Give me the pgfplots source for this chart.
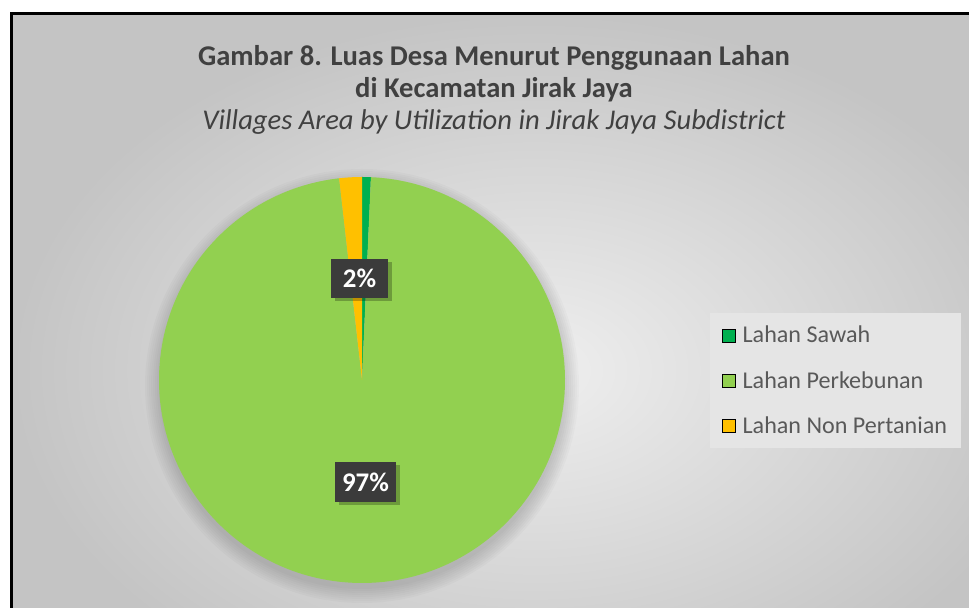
\documentclass[border=0pt]{standalone}
\usepackage{pgfplots}
\pgfplotsset{compat=1.18}
\usepackage{pgfplotstable}
\usepackage{fontspec}
\setmainfont{Carlito}
\definecolor{sawah}{HTML}{00B050}
\definecolor{kebun}{HTML}{92D050}
\definecolor{nonp}{HTML}{FFC000}
\definecolor{ttl}{HTML}{404040}
\definecolor{lgd}{HTML}{595959}
\definecolor{lblbox}{HTML}{3B3B3B}
\definecolor{bgin}{HTML}{EFEFEF}
\definecolor{bgout}{HTML}{C4C4C4}
\definecolor{lgdbg}{HTML}{E5E5E5}

\pgfplotstableread{
kategori share
Sawah 0.7
Perkebunan 97.5
NonPertanian 1.8
}\datatable

\pgfplotstablegetelem{0}{share}\of\datatable \let\sA\pgfplotsretval
\pgfplotstablegetelem{1}{share}\of\datatable \let\sB\pgfplotsretval
\pgfplotstablegetelem{2}{share}\of\datatable \let\sC\pgfplotsretval
\pgfmathsetmacro\aA{90}
\pgfmathsetmacro\aB{\aA-3.6*\sA}
\pgfmathsetmacro\aC{\aB-3.6*\sB}
\pgfmathsetmacro\aD{\aC-3.6*\sC}

\pgfplotsset{sqlegend/.style={legend image code/.code={\fill[##1] (0bp,-6.5bp) rectangle (13bp,6.5bp);}}}

\begin{document}
\begin{tikzpicture}[x=1bp,y=1bp]
\path[use as bounding box] (0,0) rectangle (969,608);
\fill[white] (0,0) rectangle (969,608);
\shade[inner color=bgin, outer color=bgout] (11,-120) rectangle (1060,595);
\draw[line width=3bp, black] (11.5,-5) -- (11.5,594.5) -- (975,594.5);
\node[text=ttl, font=\bfseries\fontsize{28.7}{32}\selectfont] at (494,550) {Gambar 8. Luas Desa Menurut Penggunaan Lahan};
\node[text=ttl, font=\bfseries\fontsize{28.7}{32}\selectfont] at (494,518) {di Kecamatan Jirak Jaya};
\node[text=ttl, font=\itshape\fontsize{28.7}{32}\selectfont] at (494,486) {Villages Area by Utilization in Jirak Jaya Subdistrict};
\begin{axis}[
  at={(0,0)}, anchor=south west,
  scale only axis, width=969bp, height=608bp,
  xmin=0, xmax=969, ymin=0, ymax=608,
  hide axis, clip=false,
  legend cell align=left,
  legend style={at={(axis cs:710,295)}, anchor=north west,
    fill=lgdbg, draw=none,
    font=\fontsize{24.2}{27}\selectfont, text=lgd,
    row sep=23bp, inner xsep=12bp, inner ysep=11bp,
    /tikz/every odd column/.append style={column sep=5bp}},
]
% soft shadow
\fill[black, opacity=0.02] (axis cs:362,222) circle[radius=203bp];
\fill[black, opacity=0.02] (axis cs:362,222) circle[radius=205bp];
\fill[black, opacity=0.02] (axis cs:362,222) circle[radius=207bp];
\fill[black, opacity=0.02] (axis cs:362,222) circle[radius=209bp];
\fill[black, opacity=0.02] (axis cs:362,222) circle[radius=211bp];
\fill[black, opacity=0.02] (axis cs:362,222) circle[radius=213bp];
\fill[black, opacity=0.02] (axis cs:362,222) circle[radius=215bp];
\fill[black, opacity=0.02] (axis cs:362,222) circle[radius=217bp];
% pie wedges
\begin{scope}[shift={(axis cs:362,228)}]
\fill[sawah] (0,0) -- (\aA:203bp) arc[start angle=\aA, end angle=\aB, radius=203bp] -- cycle;
\fill[kebun] (0,0) -- (\aB:203bp) arc[start angle=\aB, end angle=\aC, radius=203bp] -- cycle;
\fill[nonp]  (0,0) -- (\aC:203bp) arc[start angle=\aC, end angle=\aD, radius=203bp] -- cycle;
\end{scope}
% data labels
\node[fill=black, opacity=0.25, minimum width=57bp, minimum height=39bp, inner sep=0pt] at (axis cs:363.5,326) {};
\node[fill=lblbox, text=white, font=\bfseries\fontsize{27}{27}\selectfont, minimum width=57bp, minimum height=39bp, inner sep=0pt] at (axis cs:359.5,329.5) {2\%};
\node[fill=black, opacity=0.25, minimum width=61bp, minimum height=40bp, inner sep=0pt] at (axis cs:369.5,122.5) {};
\node[fill=lblbox, text=white, font=\bfseries\fontsize{27}{27}\selectfont, minimum width=61bp, minimum height=40bp, inner sep=0pt] at (axis cs:365.5,126) {97\%};
% legend
\addlegendimage{sqlegend, fill=sawah}
\addlegendentry{Lahan Sawah}
\addlegendimage{sqlegend, fill=kebun}
\addlegendentry{Lahan Perkebunan}
\addlegendimage{sqlegend, fill=nonp}
\addlegendentry{Lahan Non Pertanian}
\end{axis}
\end{tikzpicture}
\end{document}
